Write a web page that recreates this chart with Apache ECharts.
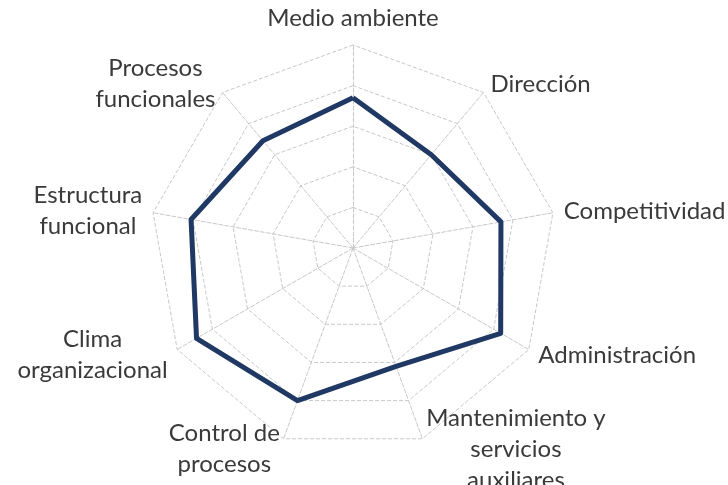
<!DOCTYPE html>
<html>
<head>
<meta charset="utf-8">
<script src="https://cdn.jsdelivr.net/npm/echarts@6/dist/echarts.min.js"></script>
<style>
  html, body { margin: 0; padding: 0; background: #fff; }
  #chart { width: 728px; height: 485px; }
</style>
</head>
<body>
<div id="chart"></div>
<script>
// clockwise from the top, as in the picture
var categories = [
  'Medio ambiente',
  'Dirección',
  'Competitividad',
  'Administración',
  'Mantenimiento y\nservicios\nauxiliares',
  'Control de\nprocesos',
  'Clima\norganizacional',
  'Estructura\nfuncional',
  'Procesos\nfuncionales'
];
var values = [3.7, 3.0, 3.7, 4.2, 3.1, 4.0, 4.45, 4.05, 3.45];
var maxValue = 5;

// echarts lays radar indicators out counter-clockwise, so flip the order (keep the first on top)
function ccw(arr) {
  return [arr[0]].concat(arr.slice(1).reverse());
}

var indicators = ccw(categories).map(function (name) {
  return { name: name, max: maxValue, min: 0 };
});

var myChart = echarts.init(document.getElementById('chart'));
myChart.setOption({
  backgroundColor: '#ffffff',
  animation: false,
  radar: {
    center: [353, 248],
    radius: 203,
    startAngle: 90,
    splitNumber: 5,
    shape: 'polygon',
    indicator: indicators,
    axisName: {
      color: '#3a3a3a',
      fontFamily: 'Lato',
      fontSize: 24,
      lineHeight: 31,
      // centre every line inside the label block
      formatter: function (name) {
        return name.split('\n').map(function (s) { return '{c|' + s + '}'; }).join('\n');
      },
      rich: {
        c: { align: 'center', color: '#3a3a3a', fontFamily: 'Lato', fontSize: 24, lineHeight: 31 }
      }
    },
    nameGap: 11,
    splitLine: {
      lineStyle: { color: '#c8c8c8', type: 'dashed', width: 1 }
    },
    splitArea: { show: false },
    axisLine: {
      lineStyle: { color: '#c8c8c8', type: 'dashed', width: 1 }
    }
  },
  series: [{
    type: 'radar',
    symbol: 'none',
    lineStyle: { color: '#1f3864', width: 5 },
    data: [{ value: ccw(values), name: 'Puntaje' }]
  }]
});
</script>
</body>
</html>
